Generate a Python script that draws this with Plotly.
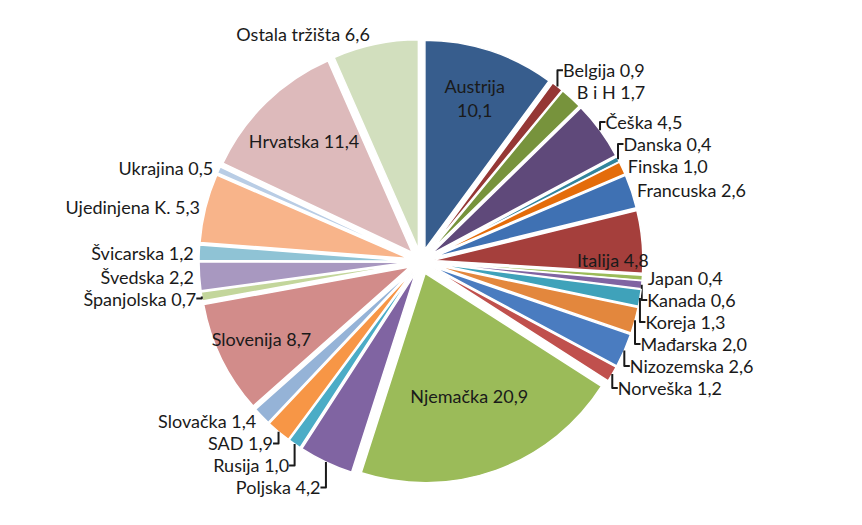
import plotly.graph_objects as go

labels = ["Austrija", "Belgija", "B i H", "Češka", "Danska", "Finska", "Francuska",
          "Italija", "Japan", "Kanada", "Koreja", "Mađarska", "Nizozemska", "Norveška",
          "Njemačka", "Poljska", "Rusija", "SAD", "Slovačka", "Slovenija", "Španjolska",
          "Švedska", "Švicarska", "Ujedinjena K.", "Ukrajina", "Hrvatska", "Ostala tržišta"]
values = [10.1, 0.9, 1.7, 4.5, 0.4, 1.0, 2.6, 4.8, 0.4, 0.6, 1.3, 2.0, 2.6, 1.2,
          20.9, 4.2, 1.0, 1.9, 1.4, 8.7, 0.7, 2.2, 1.2, 5.3, 0.5, 11.4, 6.6]
colors = ["#375D8D", "#953735", "#77933C", "#5F497A", "#31859C", "#E46C0A", "#3F71B3",
          "#A53F3C", "#9BBB59", "#8064A2", "#3FA2BA", "#E3873D", "#4A7CC0", "#C0504D",
          "#9BBB59", "#8064A2", "#4BACC6", "#F79646", "#95B3D7", "#D28C8A", "#C3D69B",
          "#A898C0", "#8FC3D5", "#F8B48A", "#B9CDE5", "#DDBABB", "#D2DFBE"]
inside_labels = ["Austrija", "Italija", "Njemačka", "Slovenija", "Hrvatska"]

texts = []
for l, v in zip(labels, values):
    num = f"{v:.1f}".replace(".", ",")
    sep = "<br>" if l == "Austrija" else " "
    texts.append(f"{l}{sep}{num}")
positions = ["inside" if l in inside_labels else "outside" for l in labels]

font = dict(family="Lato", size=18, color="#1a1a1a")
fig = go.Figure(go.Pie(
    labels=labels, values=values, text=texts, textinfo="text",
    textposition=positions, insidetextorientation="horizontal",
    sort=False, direction="clockwise", rotation=0,
    pull=[0.06] * len(values), automargin=False,
    marker=dict(colors=colors, line=dict(color="white", width=1.5)),
    textfont=font, outsidetextfont=font, insidetextfont=font,
    domain=dict(x=[0.2216, 0.7366], y=[0.0943, 0.9400]),
    showlegend=False, hoverinfo="label+value",
))
fig.update_layout(width=862, height=525, margin=dict(l=0, r=0, t=0, b=0, autoexpand=False),
                  paper_bgcolor="white", plot_bgcolor="white",
                  uniformtext=dict(minsize=18, mode="show"))
fig.write_html("out.html")
